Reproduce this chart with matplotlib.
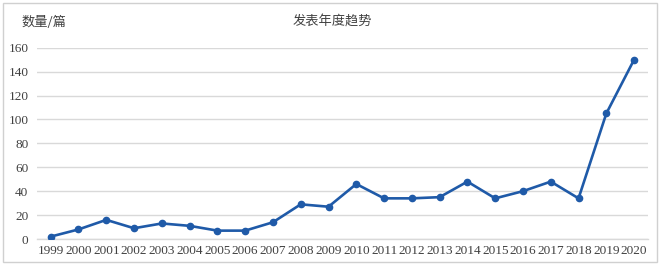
import matplotlib.pyplot as plt
from matplotlib.patches import Rectangle

years = [str(y) for y in range(1999, 2021)]
counts = [2, 8, 16, 9, 13, 11, 7, 7, 14, 29, 27, 46, 34, 34, 35, 48, 34, 40, 48, 34, 105, 150]
yticks = [0, 20, 40, 60, 80, 100, 120, 140, 160]

plt.rcParams['font.family'] = ['Liberation Serif', 'Noto Sans CJK SC']

fig = plt.figure(figsize=(6.63, 2.68), dpi=100)
ax = fig.add_axes([36.8/663, 1-239/268, (648-36.8)/663, (239-47.7)/268])

x = range(len(years))
ax.plot(x, counts, color='#1f5aa8', lw=1.9, marker='o', ms=4.5, zorder=3)

ax.set_xlim(-0.5, len(years)-0.5)
ax.set_ylim(0, 160)
ax.set_yticks(yticks)
ax.set_xticks(list(x))
ax.set_xticklabels(years)
ax.grid(axis='y', color='#d9d9d9', lw=1.0)
ax.set_axisbelow(True)
for s in ['top', 'right', 'left']:
    ax.spines[s].set_visible(False)
ax.spines['bottom'].set_color('#d9d9d9')
ax.spines['bottom'].set_linewidth(1.0)
ax.tick_params(length=0, labelsize=9.5, colors='#404040')
ax.tick_params(axis='y', pad=6)
ax.tick_params(axis='x', pad=4)

# chart frame
fig.patches.append(Rectangle((3/663, 1-262/268), (657-3)/663, (262-3)/268,
                             transform=fig.transFigure, fill=False,
                             edgecolor='#d0d0d0', lw=1.0))

fig.text(332/663, 1-22/268, '发表年度趋势', ha='center', va='center', fontsize=9.5,
         family=['Noto Sans CJK SC'], color='#404040')
fig.text(21/663, 1-22/268, '数量/篇', ha='left', va='center', fontsize=9.5,
         family=['Noto Sans CJK SC'], color='#404040')

fig.savefig('out.png', dpi=100)
